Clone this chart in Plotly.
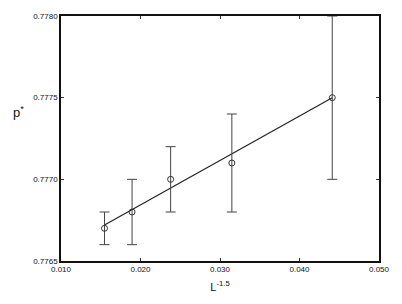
import plotly.graph_objects as go

x_vals = [0.01547, 0.01894, 0.02379, 0.03149, 0.04412]
y_vals = [0.77670, 0.77680, 0.77700, 0.77710, 0.77750]
err_plus = [0.00010, 0.00020, 0.00020, 0.00030, 0.00050]
err_minus = [0.00010, 0.00020, 0.00020, 0.00030, 0.00050]
fit_x = [0.01547, 0.04412]
fit_y = [0.77672, 0.77750]
x_ticks = [0.010, 0.020, 0.030, 0.040, 0.050]
x_tick_text = ["0.010", "0.020", "0.030", "0.040", "0.050"]
y_ticks = [0.7765, 0.7770, 0.7775, 0.7780]
y_tick_text = ["0.7765", "0.7770", "0.7775", "0.7780"]

fig = go.Figure()
fig.add_trace(go.Scatter(
    x=fit_x, y=fit_y, mode="lines",
    line=dict(color="#222", width=1.2), showlegend=False, hoverinfo="skip"))
fig.add_trace(go.Scatter(
    x=x_vals, y=y_vals, mode="markers",
    marker=dict(symbol="circle-open", size=6, color="#333", line=dict(width=1)),
    error_y=dict(type="data", symmetric=False, array=err_plus, arrayminus=err_minus,
                 color="#444", thickness=1, width=5),
    showlegend=False))

fig.add_annotation(
    text="p<sup>*</sup>", xref="paper", yref="paper", x=-0.158, y=0.61,
    showarrow=False, font=dict(family="Liberation Sans", size=13, color="#111"))

fig.update_layout(
    width=402, height=304,
    margin=dict(l=61, r=19, t=12, b=41),
    paper_bgcolor="white", plot_bgcolor="white",
    font=dict(family="Liberation Sans", size=8, color="#111"),
    xaxis=dict(range=[0.010, 0.050], tickvals=x_ticks, ticktext=x_tick_text,
               showgrid=False, zeroline=False, showline=True, linecolor="#111",
               linewidth=1.5, mirror="ticks", ticks="inside", ticklen=3,
               tickcolor="#333",
               title=dict(text="L<sup>-1.5</sup>", font=dict(size=11), standoff=10)),
    yaxis=dict(range=[0.7765, 0.7780], tickvals=y_ticks, ticktext=y_tick_text,
               showgrid=False, zeroline=False, showline=True, linecolor="#111",
               linewidth=1.5, mirror="ticks", ticks="inside", ticklen=3,
               tickcolor="#333"),
)

fig.write_html("out.html")
